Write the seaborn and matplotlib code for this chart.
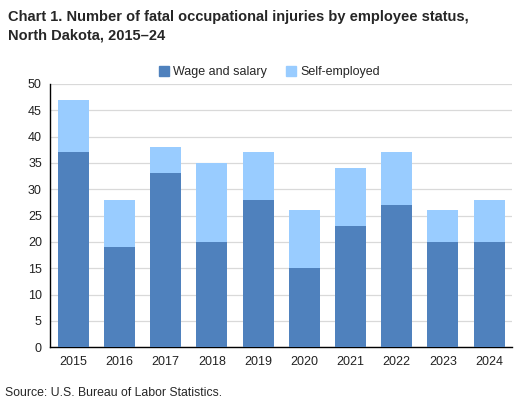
import matplotlib
matplotlib.use('Agg')
import matplotlib.pyplot as plt
import seaborn as sns
import pandas as pd
from matplotlib.patches import Patch

# data
years = ['2015', '2016', '2017', '2018', '2019', '2020', '2021', '2022', '2023', '2024']
wage_salary = [37, 19, 33, 20, 28, 15, 23, 27, 20, 20]
self_employed = [10, 9, 5, 15, 9, 11, 11, 10, 6, 8]

df = pd.DataFrame({
    'Year': years,
    'Wage and salary': wage_salary,
    'Self-employed': self_employed,
})
df['Total'] = df['Wage and salary'] + df['Self-employed']

dark = '#4F81BD'
light = '#99CCFF'

sns.set_style('white')
plt.rcParams['font.family'] = ['Liberation Sans', 'DejaVu Sans']

fig = plt.figure(figsize=(5.28, 4.07), dpi=100)
ax = fig.add_axes([0.095, 0.147, 0.875, 0.647])

# stacked bars: total in light, wage and salary drawn on top
sns.barplot(data=df, x='Year', y='Total', color=light, width=0.67,
            saturation=1, linewidth=0, ax=ax, zorder=2)
sns.barplot(data=df, x='Year', y='Wage and salary', color=dark, width=0.67,
            saturation=1, linewidth=0, ax=ax, zorder=3)

ax.set_ylim(0, 50)
ax.set_yticks(range(0, 51, 5))
ax.set_xlim(-0.5, len(years) - 0.5)
ax.yaxis.grid(True, color='#D9D9D9', linewidth=0.9, zorder=0)
ax.set_axisbelow(True)
ax.set_xlabel('')
ax.set_ylabel('')
ax.tick_params(axis='both', length=0, labelsize=9, colors='#222222', pad=6)

for side in ['top', 'right']:
    ax.spines[side].set_visible(False)
ax.spines['left'].set_color('#000000')
ax.spines['left'].set_linewidth(1.0)
ax.spines['bottom'].set_color('#000000')
ax.spines['bottom'].set_linewidth(1.0)

handles = [Patch(color=dark, label='Wage and salary'),
           Patch(color=light, label='Self-employed')]
fig.legend(handles=handles, loc='center', bbox_to_anchor=(0.51, 0.823),
           ncol=2, frameon=False, fontsize=9, handlelength=0.8,
           handleheight=0.8, handletextpad=0.3, columnspacing=1.6)

fig.text(0.015, 0.975,
         'Chart 1. Number of fatal occupational injuries by employee status,\nNorth Dakota, 2015\u201324',
         fontsize=10.5, fontweight='bold', va='top', ha='left', linespacing=1.35)

fig.text(0.01, 0.035, 'Source: U.S. Bureau of Labor Statistics.',
         fontsize=8.8, va='center', ha='left')

fig.savefig('out.png', dpi=100)
